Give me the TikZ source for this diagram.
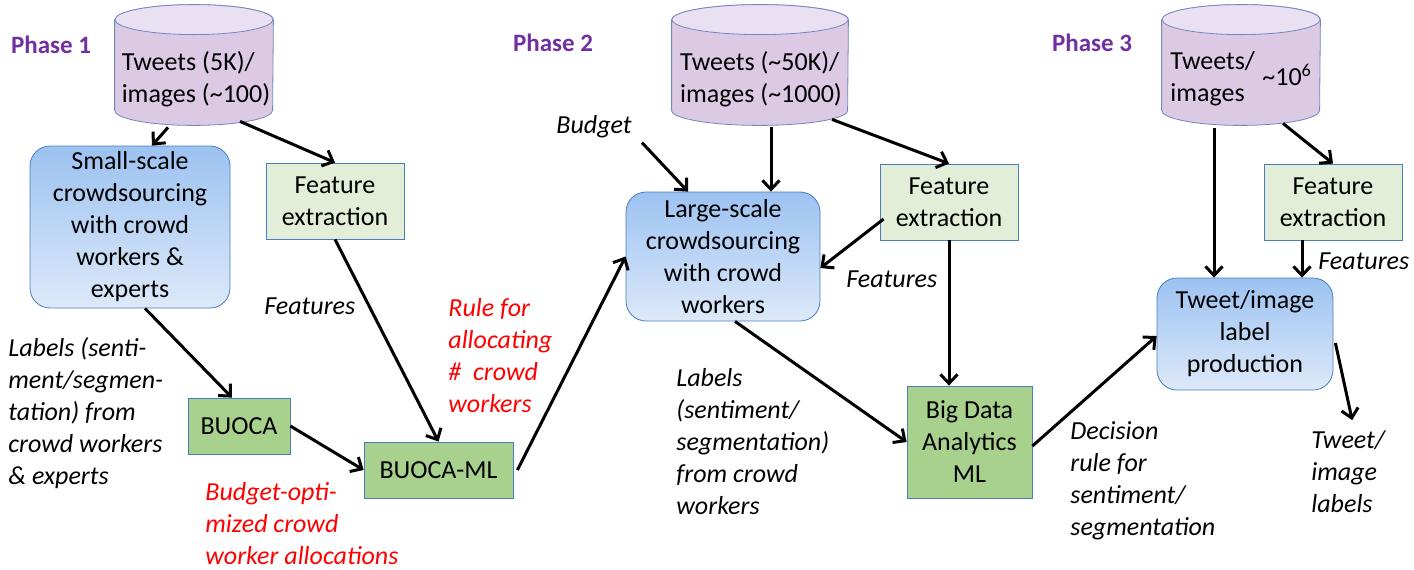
\documentclass[tikz,border=0pt]{standalone}
\usepackage{fontspec}
\setmainfont{Carlito}
\usepackage{tikz}
\usetikzlibrary{shapes.geometric, arrows.meta, positioning, calc}
\definecolor{cylbody}{HTML}{DCCAE4}
\definecolor{cyltop}{HTML}{E9E0F1}
\definecolor{cyledge}{HTML}{7388BC}
\definecolor{boxedge}{HTML}{4A7EBB}
\definecolor{bluetop}{HTML}{9CC2F1}
\definecolor{bluebot}{HTML}{DDE9F9}
\definecolor{lightgreen}{HTML}{E3EED8}
\definecolor{midgreen}{HTML}{A9D18E}
\definecolor{phase}{HTML}{7030A0}

\begin{document}
\begin{tikzpicture}[
    x=0.5pt, y=-0.5pt,
    every node/.style={font=\fontsize{13pt}{16pt}\selectfont},
    db/.style={
        rectangle, minimum width=79pt, minimum height=60pt, inner sep=0pt
    },
    dbside/.style={draw=cyledge, fill=cylbody},
    dbend/.style={draw=cyledge, fill=cyltop},
    crowd/.style={
        rectangle, draw=boxedge, rounded corners=10pt,
        top color=bluetop, bottom color=bluebot, align=center, inner sep=0pt
    },
    feat/.style={
        rectangle, draw=boxedge, fill=lightgreen, align=center,
        minimum width=69pt, minimum height=38pt, inner sep=0pt
    },
    algo/.style={
        rectangle, draw=boxedge, fill=midgreen, align=center,
        minimum height=28pt, inner sep=0pt
    },
    phaselbl/.style={font=\fontsize{12.5pt}{15pt}\selectfont\bfseries, text=phase},
    note/.style={font=\fontsize{13pt}{16pt}\selectfont\itshape, align=left, anchor=west, inner sep=0pt},
    rednote/.style={note, text=red},
    arrow/.style={-{Straight Barb[length=4.5pt,width=8.5pt]}, line width=1.5pt, black}
]
    \useasboundingbox (0,0) rectangle (1414,569);

    %% Databases (outline first, text on top)
    \node[db] (db1) at (194,65) {};
    \node[db, minimum width=88pt] (db2) at (760,65) {};
    \node[db] (db3) at (1241,65) {};
    \foreach \d/\r in {db1/39.5pt, db2/44pt, db3/39.5pt} {
        \draw[dbside] ([yshift=-7.5pt]\d.north west) -- ([yshift=7.5pt]\d.south west)
            arc[start angle=180, end angle=360, x radius=\r, y radius=7.5pt]
            -- ([yshift=-7.5pt]\d.north east)
            arc[start angle=0, end angle=180, x radius=\r, y radius=7.5pt] -- cycle;
        \draw[dbend] ([yshift=-7.5pt]\d.north) ellipse[x radius=\r, y radius=7.5pt];
    }

    %% Phase 1
    \node[phaselbl] (ph1) at (51,45) {Phase 1};
    \node[align=left, inner sep=0pt] (db1txt) at (196,79) {Tweets (5K)/\\images (\textasciitilde100)};
    \node[crowd, minimum width=100pt, minimum height=81pt] (small) at (130,227)
        {Small-scale\\crowdsourcing\\with crowd\\workers \&\\experts};
    \node[feat] (fe1) at (335,201) {Feature\\extraction};
    \node[algo, minimum width=51pt] (buoca) at (239,426) {BUOCA};
    \node[algo, minimum width=74.5pt] (buocaml) at (438.5,470) {BUOCA-ML};
    \node[note] (feat1) at (264,306) {Features};
    \node[note] (lab1) at (8,413.5) {Labels (senti-\\ment/segmen-\\tation) from\\crowd workers\\\& experts};
    \node[rednote] (budopt) at (205,524) {Budget-opti-\\mized crowd\\worker allocations};
    \node[rednote] (rule) at (448,355.5) {Rule for\\allocating\\\#\ \ crowd\\workers};

    %% Phase 2
    \node[phaselbl] (ph2) at (553,43) {Phase 2};
    \node[align=left, inner sep=0pt] (db2txt) at (761,79) {Tweets (\textasciitilde50K)/\\images (\textasciitilde1000)};
    \node[note] (budget) at (556,127) {Budget};
    \node[crowd, minimum width=97pt, minimum height=64.5pt] (large) at (723,256.5)
        {Large-scale\\crowdsourcing\\with crowd\\workers};
    \node[feat] (fe2) at (949,202) {Feature\\extraction};
    \node[algo, minimum width=62.5pt, minimum height=56pt] (bda) at (969.5,442) {Big Data\\Analytics\\ML};
    \node[note] (feat2) at (846,279) {Features};
    \node[note] (lab2) at (676,441.5) {Labels\\(sentiment/\\segmentation)\\from crowd\\workers};

    %% Phase 3
    \node[phaselbl] (ph3) at (1092,43) {Phase 3};
    \node[align=left, inner sep=0pt, anchor=west] (db3txt) at (1170,79) {Tweets/\\images};
    \node[inner sep=0pt, anchor=west] (db3num) at (1262,75) {\textasciitilde10\textsuperscript{6}};
    \node[feat] (fe3) at (1333,202) {Feature\\extraction};
    \node[crowd, minimum width=88pt, minimum height=56pt] (prod) at (1245,334)
        {Tweet/image\\label\\production};
    \node[note] (feat3) at (1318,261) {Features};
    \node[note] (dec) at (1070,481) {Decision\\rule for\\sentiment/\\segmentation};
    \node[note] (tout) at (1311,471.5) {Tweet/\\image\\labels};

    %% Connectors
    \draw[arrow] ([xshift=-13pt,yshift=-1pt]db1.south) -- ([xshift=11pt]small.north);
    \draw[arrow] ([xshift=23pt,yshift=2pt]db1.south) -- (fe1.north);
    \draw[arrow] ([xshift=7.5pt]small.south) -- ([xshift=-3.5pt]buoca.north);
    \draw[arrow] (fe1.south) -- (buocaml.north);
    \draw[arrow] (buoca.east) -- (buocaml.west);
    \draw[arrow] ([xshift=2pt]buocaml.east) -- (large.west);
    \draw[arrow] ([shift={(5pt,-2pt)}]budget.south east) -- ([xshift=-17.5pt]large.north);
    \draw[arrow] ([xshift=5.5pt,yshift=-1pt]db2.south) -- ([xshift=24pt]large.north);
    \draw[arrow] ([xshift=36pt,yshift=3pt]db2.south) -- (fe2.north);
    \draw[arrow] ([shift={(2pt,-8.5pt)}]fe2.west) -- ([yshift=-5.75pt]large.east);
    \draw[arrow] ([xshift=6pt]large.south) -- (bda.west);
    \draw[arrow] (fe2.south) -- (fe2.south |- bda.north);
    \draw[arrow] ([yshift=-2pt]bda.east) -- ([yshift=-1pt]prod.west);
    \draw[arrow] ([shift={(-13.5pt,-1.5pt)}]db3.south) -- ([xshift=-13.5pt]db3.south |- prod.north);
    \draw[arrow] ([xshift=21pt,yshift=1pt]db3.south) -- (fe3.north);
    \draw[arrow] ([xshift=-15.5pt]fe3.south) -- ([xshift=-15.5pt]fe3.south |- prod.north);
    \draw[arrow] ([shift={(1pt,-4.5pt)}]prod.east) -- ([shift={(2pt,5pt)}]tout.north);
\end{tikzpicture}
\end{document}
